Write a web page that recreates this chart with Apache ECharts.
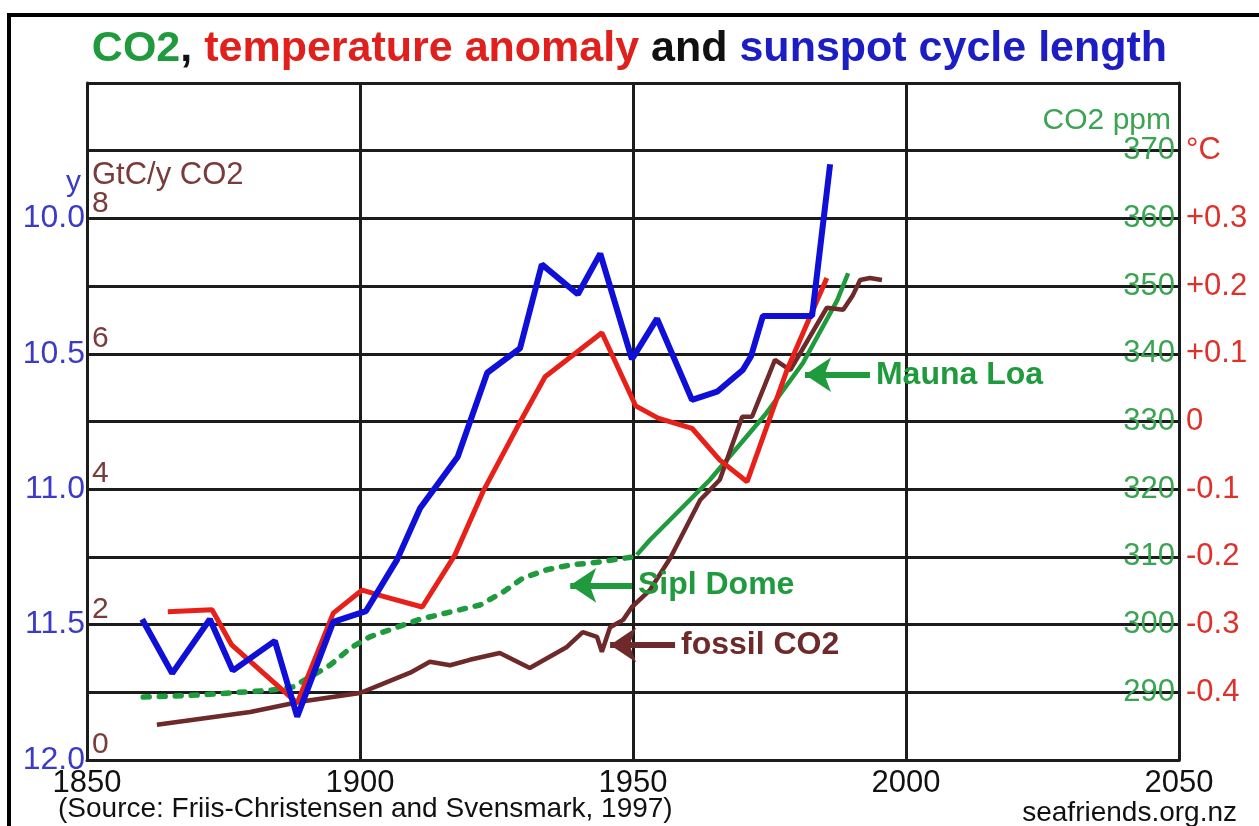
<!DOCTYPE html>
<html>
<head>
<meta charset="utf-8">
<script src="https://cdn.jsdelivr.net/npm/echarts@6/dist/echarts.min.js"></script>
<style>html,body{margin:0;padding:0;background:#fff;}#c{width:1259px;height:826px;}</style>
</head>
<body>
<div id="c"></div>
<script>
// x ticks
const xTicks = [1850, 1900, 1950, 2000, 2050];
// Sunspot cycle length (years, inverted left axis)
const sunYears = [1860.1,1865.6,1872.5,1876.7,1884.4,1888.5,1895.1,1901.1,1906.8,1911.0,1917.9,1923.3,1929.3,1933.3,1939.9,1944.0,1949.8,1954.4,1960.8,1965.4,1970.1,1971.6,1973.8,1982.8,1986.1];
const sunLen   = [11.48,11.68,11.48,11.67,11.56,11.84,11.49,11.45,11.26,11.07,10.88,10.57,10.48,10.17,10.28,10.13,10.52,10.37,10.67,10.64,10.56,10.51,10.36,10.36,9.80];
// Temperature anomaly (°C)
const tempYears = [1864.8,1872.9,1876.5,1888.5,1895.1,1900.4,1904.6,1911.4,1917.4,1922.5,1929.3,1933.9,1944.3,1950.5,1954.6,1960.8,1965.9,1970.9,1978.2,1985.5];
const tempAnom  = [-0.281,-0.278,-0.33,-0.416,-0.283,-0.249,-0.259,-0.274,-0.197,-0.104,-0.001,0.066,0.131,0.023,0.005,-0.010,-0.057,-0.089,0.076,0.212];
// Siple Dome ice-core CO2 (ppm)
const siplYears = [1860.3,1870.7,1883.5,1887.7,1894.5,1898.2,1901.8,1911.0,1922.0,1926.2,1929.9,1934.2,1938.5,1943.4,1950.0];
const siplCO2   = [289.3,289.6,290.3,290.8,294.0,296.5,298.2,300.8,302.9,304.8,306.9,308.1,308.8,309.2,310.0];
// Mauna Loa CO2 (ppm)
const maunaYears = [1950.7,1953.1,1964.1,1974.5,1981.1,1987.4,1989.4];
const maunaCO2   = [310.3,312.5,321.4,331.3,338.6,347.9,351.9];
// Fossil CO2 emissions (GtC/y)
const fossilYears = [1862.8,1879.9,1889,1900,1903.7,1909.2,1912.8,1916.5,1920.1,1925.6,1931.1,1937.9,1940.8,1943.4,1944.3,1945.8,1948.2,1949.8,1953.1,1956.8,1962.3,1965.9,1970,1971.8,1976,1978.8,1985.5,1988.5,1990.3,1991.6,1993.4,1995.6];
const fossilGtC   = [0.52,0.71,0.86,0.99,1.11,1.29,1.45,1.40,1.48,1.58,1.36,1.67,1.89,1.82,1.60,1.96,2.07,2.26,2.51,2.98,3.84,4.14,5.07,5.07,5.91,5.76,6.68,6.65,6.87,7.09,7.12,7.09];
// Axis tick labels
const sunTicks = [10.0, 10.5, 11.0, 11.5, 12.0];
const gtcTicks = [0, 2, 4, 6, 8];
const ppmTicks = [290, 300, 310, 320, 330, 340, 350, 360, 370];
const degTicks = [-0.4, -0.3, -0.2, -0.1, 0, 0.1, 0.2, 0.3];

const zip = (a, b) => a.map((v, i) => [v, b[i]]);
const FONT = '"Liberation Sans", Arial, sans-serif';
const near = (v, arr) => arr.some(t => Math.abs(t - v) < 1e-6);

const chart = echarts.init(document.getElementById('c'), null, {renderer: 'canvas'});
const gridLine = {show: true, lineStyle: {color: '#1c1c1c', width: 3}};
const arrowLine = (color) => ({
  symbol: ['none', 'arrow'], symbolSize: 26, silent: true,
  lineStyle: {color: color, width: 6, type: 'solid'},
  label: {show: true, position: 'start', distance: 6, fontFamily: FONT, fontWeight: 'bold', fontSize: 32, color: color}
});

chart.setOption({
  animation: false,
  backgroundColor: '#fff',
  title: {
    text: '{g|CO2}{k|, }{r|temperature anomaly}{k| and }{b|sunspot cycle length}',
    left: 'center', top: 23,
    textStyle: {
      fontFamily: FONT, fontWeight: 'bold', fontSize: 43,
      rich: {
        g: {color: '#1f9a3c', fontFamily: FONT, fontWeight: 'bold', fontSize: 43},
        k: {color: '#111', fontFamily: FONT, fontWeight: 'bold', fontSize: 43},
        r: {color: '#e0201c', fontFamily: FONT, fontWeight: 'bold', fontSize: 43},
        b: {color: '#1d1dc4', fontFamily: FONT, fontWeight: 'bold', fontSize: 43}
      }
    }
  },
  grid: {left: 87, right: 80, top: 83, bottom: 66, containLabel: false},
  xAxis: {
    type: 'value', min: 1850, max: 2050, interval: 50,
    axisLine: {show: true, lineStyle: {color: '#1c1c1c', width: 3}},
    axisTick: {show: false},
    splitLine: gridLine,
    axisLabel: {fontFamily: FONT, fontSize: 31, color: '#111', margin: 8,
      formatter: v => near(v, xTicks) ? String(v) : ''}
  },
  yAxis: [
    { // sunspot cycle length
      type: 'value', position: 'left', inverse: true, min: 9.5, max: 12.0, interval: 0.25,
      axisLine: {show: true, lineStyle: {color: '#1c1c1c', width: 3}},
      axisTick: {show: false}, splitLine: gridLine,
      axisLabel: {fontFamily: FONT, fontSize: 32, color: '#3b3bc6', margin: 2,
        formatter: v => near(v, sunTicks) ? v.toFixed(1) : ''}
    },
    { // fossil CO2 GtC/y
      type: 'value', position: 'left', min: 0, max: 10, interval: 1,
      axisLine: {show: false}, axisTick: {show: false}, splitLine: {show: false},
      axisLabel: {inside: true, fontFamily: FONT, fontSize: 30, color: '#7a3b3b', margin: 5,
        verticalAlign: 'bottom', align: 'left',
        formatter: v => near(v, gtcTicks) ? String(Math.round(v)) : ''}
    },
    { // CO2 ppm
      type: 'value', position: 'right', min: 280, max: 380, interval: 10,
      axisLine: {show: true, lineStyle: {color: '#1c1c1c', width: 3}},
      axisTick: {show: false}, splitLine: {show: false},
      axisLabel: {inside: true, fontFamily: FONT, fontSize: 31, color: '#3aa452', margin: 4,
        formatter: v => near(v, ppmTicks) ? String(Math.round(v)) : ''}
    },
    { // temperature
      type: 'value', position: 'right', min: -0.5, max: 0.5, interval: 0.1,
      axisLine: {show: false}, axisTick: {show: false}, splitLine: {show: false},
      axisLabel: {fontFamily: FONT, fontSize: 31, color: '#e0302a', margin: 7,
        formatter: v => {
          const r = Math.round(v * 10) / 10;
          if (Math.abs(r - 0.4) < 1e-6) return '°C';
          if (!near(r, degTicks)) return '';
          if (r === 0) return '0';
          return (r > 0 ? '+' : '') + r.toFixed(1);
        }}
    }
  ],
  series: [
    {
      name: 'Sipl Dome', type: 'line', yAxisIndex: 2, data: zip(siplYears, siplCO2),
      showSymbol: false, lineStyle: {color: '#1f9a3c', width: 5.5, type: [6, 10], cap: 'round'},
      markLine: Object.assign(arrowLine('#1f9a3c'), {
        data: [[{coord: [1949.8, 305.8], label: {formatter: 'Sipl Dome'}}, {coord: [1938.5, 305.8]}]]
      })
    },
    {
      name: 'Mauna Loa', type: 'line', yAxisIndex: 2, data: zip(maunaYears, maunaCO2),
      showSymbol: false, lineStyle: {color: '#1f9a3c', width: 4.5}
      ,
      markLine: Object.assign(arrowLine('#1f9a3c'), {
        data: [[{coord: [1993.4, 336.9], label: {formatter: 'Mauna Loa'}}, {coord: [1981.5, 336.9]}]]
      })
    },
    {
      name: 'fossil CO2', type: 'line', yAxisIndex: 1, data: zip(fossilYears, fossilGtC),
      showSymbol: false, lineStyle: {color: '#6e2a2a', width: 4.5},
      markLine: Object.assign(arrowLine('#6e2a2a'), {
        data: [[{coord: [1957.7, 1.70], label: {formatter: 'fossil CO2'}}, {coord: [1945.8, 1.70]}]]
      })
    },
    {
      name: 'temperature anomaly', type: 'line', yAxisIndex: 3, data: zip(tempYears, tempAnom),
      showSymbol: false, lineStyle: {color: '#e8201a', width: 5}
    },
    {
      name: 'sunspot cycle length', type: 'line', yAxisIndex: 0, data: zip(sunYears, sunLen),
      showSymbol: false, lineStyle: {color: '#0f0fd8', width: 6}
    }
  ],
  graphic: [
    {type: 'rect', shape: {x: 9, y: 15, width: 1270, height: 840}, style: {fill: 'none', stroke: '#000', lineWidth: 4}, silent: true},
    {type: 'text', left: 66, top: 168, style: {text: 'y', fontFamily: FONT, fontSize: 30, fill: '#3b3bc6'}},
    {type: 'text', left: 92, top: 160, style: {text: 'GtC/y CO2', fontFamily: FONT, fontSize: 31, fill: '#7a3b3b'}},
    {type: 'text', right: 88, top: 106, style: {text: 'CO2 ppm', fontFamily: FONT, fontSize: 30, fill: '#3aa452'}},
    {type: 'text', left: 58, top: 795, style: {text: '(Source: Friis-Christensen and Svensmark, 1997)', fontFamily: FONT, fontSize: 28, fill: '#111'}},
    {type: 'text', right: 22, top: 799, style: {text: 'seafriends.org.nz', fontFamily: FONT, fontSize: 28, fill: '#111'}}
  ]
});
</script>
</body>
</html>
